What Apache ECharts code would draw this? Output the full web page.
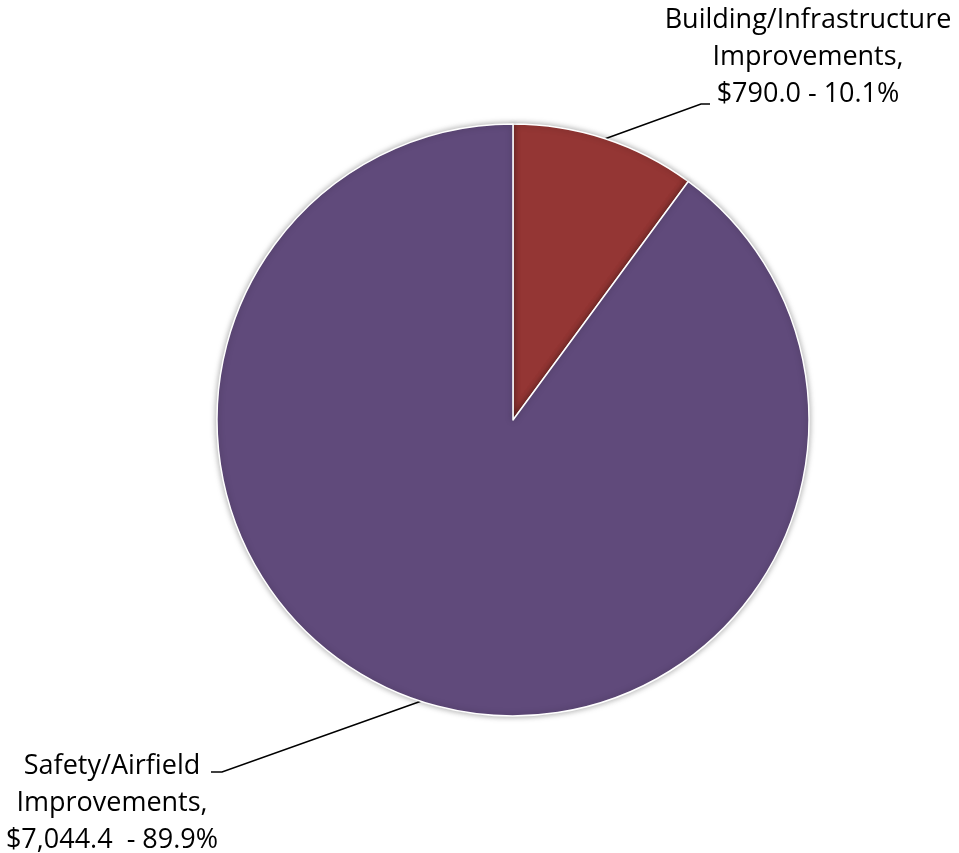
<!DOCTYPE html>
<html>
<head>
<meta charset="utf-8">
<style>
  html, body { margin: 0; padding: 0; background: #ffffff; }
  #chart { width: 959px; height: 853px; }
</style>
<script src="https://cdn.jsdelivr.net/npm/echarts@6/dist/echarts.min.js"></script>
</head>
<body>
<div id="chart"></div>
<script>
// Capital program split by category ($ thousands)
const categories = ['Building/Infrastructure\nImprovements,', 'Safety/Airfield\nImprovements,'];
const amounts = [790.0, 7044.4];
const amountLabels = ['$790.0', '$7,044.4 '];
const colors = ['#943634', '#604a7b'];

const chart = echarts.init(document.getElementById('chart'));

const data = categories.map((name, i) => ({
  name: name,
  value: amounts[i],
  itemStyle: { color: colors[i] }
}));

chart.setOption({
  animation: false,
  series: [{
    type: 'pie',
    center: [513, 420],
    radius: [0, 296],
    startAngle: 90,
    clockwise: true,
    data: data,
    itemStyle: {
      borderColor: '#ffffff',
      borderWidth: 1.5,
      shadowBlur: 6,
      shadowColor: 'rgba(0,0,0,0.35)'
    },
    label: {
      show: true,
      position: 'outside',
      color: '#000000',
      fontFamily: '"Open Sans", sans-serif',
      fontSize: 27,
      lineHeight: 37,
      align: 'center',
      formatter: p => p.name + '\n' + amountLabels[p.dataIndex] + ' - ' + p.percent.toFixed(1) + '%'
    },
    labelLine: {
      show: true,
      length: 10,
      length2: 10,
      lineStyle: { color: '#000000', width: 1.5 }
    },
    labelLayout: function (params) {
      const start = params.labelLinePoints ? params.labelLinePoints[0] : null;
      if (params.dataIndex === 0) {
        return {
          x: 808, y: 2, align: 'center', verticalAlign: 'top',
          labelLinePoints: [start, [701, 104], [710, 104]]
        };
      }
      return {
        x: 112, y: 748, align: 'center', verticalAlign: 'top',
        labelLinePoints: [start, [222, 772], [211, 772]]
      };
    }
  }]
});
</script>
</body>
</html>
